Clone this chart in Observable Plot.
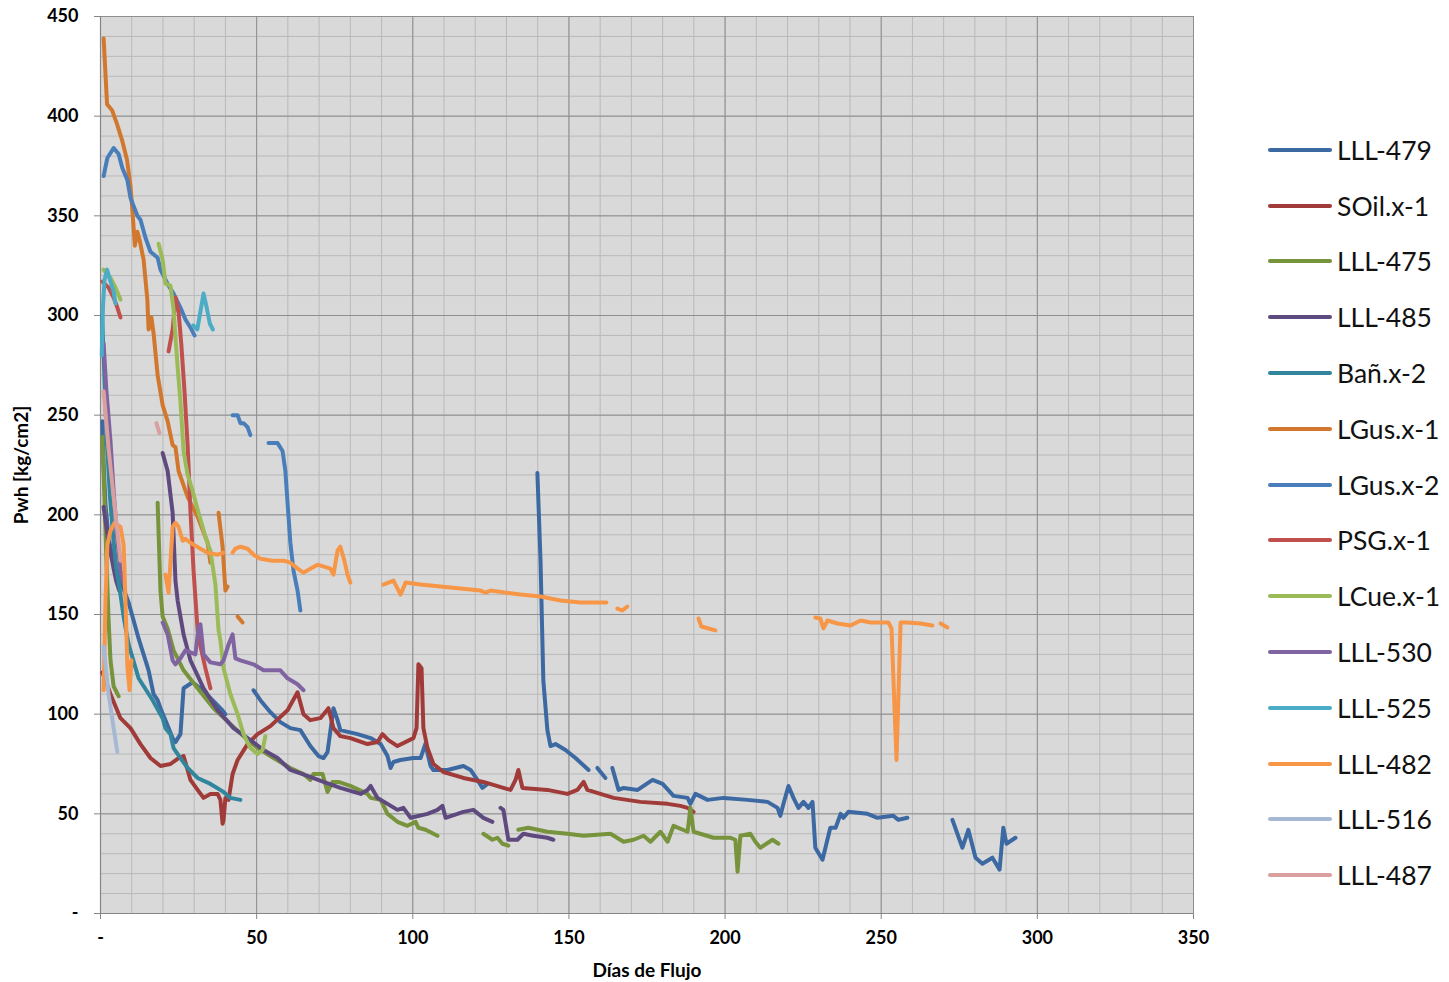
<!DOCTYPE html>
<html>
<head>
<meta charset="utf-8">
<script src="https://cdn.jsdelivr.net/npm/d3@7"></script>
<script src="https://cdn.jsdelivr.net/npm/@observablehq/plot@0.6"></script>
<style>
  html, body { margin: 0; padding: 0; background: #ffffff; }
  #wrap { position: relative; width: 1449px; height: 982px; font-family: Lato, "Liberation Sans", sans-serif; }
  #chart { position: absolute; left: 0; top: 0; }
  #legend { position: absolute; left: 1268px; top: 122px; }
  .item { display: flex; align-items: center; height: 55.8px; }
  .sw { width: 64px; height: 4px; border-radius: 2px; margin-right: 5px; }
  .lab { font-size: 26.5px; color: #111; font-family: Lato, "Liberation Sans", sans-serif; }
</style>
</head>
<body>
<div id="wrap"><div id="chart"></div><div id="legend"></div></div>
<script>
// Series names (legend order) and colours
const seriesNames = ["LLL-479","SOil.x-1","LLL-475","LLL-485","Bañ.x-2","LGus.x-1","LGus.x-2","PSG.x-1","LCue.x-1","LLL-530","LLL-525","LLL-482","LLL-516","LLL-487"];
const seriesColors = ["#3d69a3","#a13b39","#77933c","#5f4a7f","#31869d","#d2782e","#4a7ebb","#c0504d","#9bbb59","#8064a2","#4bacc6","#f79646","#a7b8d5","#d9a09f"];

// Axis ticks
const xTicks = [0,50,100,150,200,250,300,350];
const yTicks = [0,50,100,150,200,250,300,350,400,450];
const xMinor = d3.range(0, 351, 10);
const yMinor = d3.range(0, 451, 10);

// Data: [día, Pwh]; null = gap in the series
const LLL_479 = [[0.6,247],[1,225],[1.6,205],[2.6,188],[4.2,177],[6.4,167],[9,156],[12.2,138],[15.4,122],[17,110],[18.3,107],[19.2,103],[20.8,97],[23.1,88],[24,86],[25.6,90],[26.6,113],[29.5,116],[32.7,112],[39,102],[40,100],
 null,
 [49,112],[51.2,107],[54.4,101],[57.6,96],[60.8,93],[64,92],[67.2,84],[69.8,79],[71.4,78],[72.7,81],[74.6,103],[75.9,97],[76.8,92],[82.3,90],[86.5,88],[89.7,85],[91.9,79],[92.9,73],[93.8,76],[96,77],[100.2,78],[102.5,78],[104,85],[105.7,74],[106.6,72],[111.1,72],[116.2,74],[118.5,72],[120.7,67],[122.3,63],[123.9,65],
 null,
 [139.9,221],[140.9,177],[141.8,117],[143.1,92],[144.1,84],[145.7,85],[148.9,82],[152.1,78],[156.3,72],
 null,
 [159.1,73],[161.7,68],
 null,
 [163.9,73],[165.9,62],[167.5,63],[172,62],[176.8,67],[180,65],[183.5,59],[188,58],[188.9,55],[190.5,60],[194.4,57],[199.5,58],[207.2,57],[213.6,56],[216.8,53],[217.7,49],[218.7,55],[220.3,64],[221.9,58],[223.5,53],[225.1,56],[226.7,53],[228,56],[228.9,33],[231.2,27],[233.7,43],[235.4,43],[237,50],[237.9,48],[239.5,51],[245.6,50],[248.8,48],[253.9,49],[255.5,47],[258.4,48],
 null,
 [272.8,47],[276,33],[277.9,42],[280.2,28],[282.4,25],[285.6,28],[287.9,22],[289.1,43],[290.1,35],[293,38]];

const SOil_x1 = [[0.6,121],[1.6,117],[3.2,110],[6.4,98],[9.6,93],[12.8,85],[16,78],[19.2,74],[22.4,75],[25,78],[26.6,79],[27.9,72],[28.8,67],[31.1,62],[33,58],[35.2,60],[37.5,60],[38.4,57],[39.1,45],[39.4,47],[40,58],[41,57],[42.3,70],[43.9,77],[47.1,85],[50.3,90],[54.4,94],[59.9,102],[63.1,111],[65,100],[67.2,97],[70.4,98],[73,103],[74.6,93],[76.8,89],[80,88],[85.5,85],[88.7,86],[90.3,90],[92.2,87],[95.1,84],[100.2,88],[101.2,93],[101.8,125],[102.8,123],[103.4,93],[104.7,83],[106.6,75],[109.8,71],[116.2,68],[122.6,66],[129,63],[131.3,62],[132.9,67],[133.8,72],[135.1,63],[143.1,62],[149.5,60],[152.7,62],[154.7,66],[155.9,62],[160.1,60],[164.3,58],[172.9,56],[181.6,55],[185.7,54],[188,53],[189.9,51]];

const LLL_475 = [[0.6,239],[1.3,207],[1.9,177],[2.6,147],[3.2,127],[4.2,114],[5.8,109],
 null,
 [18.3,206],[19.2,162],[19.9,149],[21.5,143],[23.4,132],[26.6,122],[31.1,113],[36.2,103],[41.6,95],[47.1,87],[50.3,83],[55.4,78],[60.8,73],[65,70],[67.2,67],[68.2,70],[71.1,70],[72.7,61],[74.3,66],[76.2,66],[80,64],[85.5,60],[86.5,58],[89.7,57],[91.9,50],[95.1,46],[98.3,44],[100.9,46],[101.8,43],[104.1,42],[107.9,39],
 null,
 [122.6,40],[125.5,37],[127.1,38],[128.7,35],[130.6,34],
 null,
 [133.8,42],[137,43],[143.1,41],[149.5,40],[154.7,39],[163.3,40],[167.5,36],[170.7,37],[173.9,39],[176.1,36],[179.3,41],[181.6,36],[183.5,44],[188,41],[188.9,53],[189.9,41],[196.3,38],[201.7,38],[203.3,37],[204,21],[204.9,39],[208.1,40],[209.7,36],[211.3,33],[215.2,37],[217.1,35]];

const LLL_485 = [[1,204],[2.5,187],[4.2,173],[5,167],[6,162],
 null,
 [19.9,231],[21.5,222],[23.1,201],[24,167],[24.7,157],[26.6,140],[28.8,127],[33,113],[37.5,102],[42.6,93],[48,87],[52.2,82],[56.7,78],[60.8,72],[66.3,69],[71.4,66],[76.8,63],[83.3,60],[85.5,62],[86.5,64],[88.7,58],[91.9,55],[95.1,52],[97,53],[99.3,48],[104.7,50],[107.9,52],[109.5,54],[110.5,48],[116.2,51],[119.4,52],[122.6,48],[125.5,46],
 null,
 [128.1,53],[129,52],[130.6,37],[133.5,37],[135.4,40],[138.6,39],[143.1,38],[145,37]];

const Ban_x2 = [[0.5,300],[1,280],[1.5,258],[2,238],[3,210],[4,190],[5,174],[6.4,160],[7.5,148],[9,135],[12.2,118],[16.7,107],[19.9,98],[20.8,93],[22.4,90],[23.4,83],[25.6,78],[27.9,73],[31.1,68],[35.2,65],[39.4,61],[41.6,58],[44.8,57]];

const LGus_x1 = [[1,439],[2.1,406],[3.7,403],[5.3,396],[6.9,388],[8.5,378],[9.6,365],[10.2,353],[11,335],[11.8,342],[12.5,338],[13.8,328],[15,308],[15.4,293],[16.3,299],[17,291],[18.3,270],[19.9,255],[21.5,247],[23.1,235],[24,234],[25,222],[27.9,209],[31.1,199],[34.3,186],[35.2,176],
 null,
 [37.8,201],[39.1,184],[40,162],[40.7,164],
 null,
 [43.9,149],[45.5,146]];

const LGus_x2 = [[1,370],[2.2,379],[4.2,384],[5.8,381],[7,374],[8.6,368],[9.6,359],[11.8,350],[12.8,348],[14.4,339],[16,332],[18.3,329],[19.2,323],[21.8,315],[23.4,311],[25.6,304],[27.2,298],[28.8,294],[30.1,290],
 null,
 [42.3,250],[43.9,250],[44.8,246],[45.8,246],[47.1,244],[48,240],
 null,
 [53.8,236],[56.7,236],[58.3,232],[59.2,222],[59.9,206],[60.8,186],[61.8,172],[63.1,162],[64,152]];

const PSG_x1 = [[0.6,317],[2.6,314],[4.2,309],[5.4,304],[6.4,299],
 null,
 [21.8,282],[23.1,293],[24,309],[25,302],[25.9,285],[26.9,262],[27.9,235],[28.8,202],[29.8,172],[31.1,142],[32,134],[33.6,123],[35.2,113]];

const LCue_x1 = [[0.9,323],[3.2,319],[4.8,314],[6.4,308],
 null,
 [18.6,336],[19.9,328],[20.8,316],[22.4,315],[23.4,303],[24.7,274],[25.6,257],[26.6,232],[27.9,220],[29.5,212],[31.4,201],[33.6,189],[35.2,182],[36.8,165],[37.8,142],[38.4,137],[39.4,123],[41.6,110],[43.9,100],[45.8,90],[48,83],[50.3,80],[51.9,82],[52.8,89]];

const LLL_530 = [[1,286],[1.9,262],[3.2,237],[4.2,212],[5.4,187],[6.4,172],[7.5,165],
 null,
 [19.9,146],[21.5,140],[23.1,127],[24,125],[25.6,128],[27.2,132],[30.4,130],[31.4,144],[32,145],[33,130],[35.2,126],[38.4,125],[39.4,127],[41,135],[42.3,140],[43.2,128],[44.8,127],[49,125],[52.2,122],[57.6,122],[59.9,118],[63.1,115],[65,112]];

const LLL_525 = [[0.4,280],[0.8,305],[1.3,318],[2.1,323],[3,318],[4.2,312],[4.8,306],
 null,
 [29.7,295],[31,293],[33,311],[34,304],[35,296],[36,293]];

const LLL_482 = [[1,112],[1.6,157],[2.2,185],[3.2,192],[4.5,196],[6.4,194],[7.4,185],[8,157],[8.6,124],[9.3,112],[9.9,127],
 null,
 [20.8,170],[21.8,161],[23.1,194],[24,196],[25,194],[26.3,187],[27.2,188],[28.8,186],[32,183],[34.3,181],[37.5,180],[39.4,181],
 null,
 [42.3,181],[43.2,183],[44.8,184],[47.1,183],[49,180],[51.2,178],[55.1,177],[58.6,177],[60.8,176],[63.1,173],[65,171],[67.2,173],[69.5,175],[73.6,173],[74.6,170],[75.9,182],[76.8,184],[78.1,177],[79.1,170],[80,166],
 null,
 [90.6,165],[93.8,167],[96.1,160],[97.7,166],[102.5,165],[108.9,164],[115.3,163],[121.7,162],[123.3,161],[124.9,162],[134.5,160],[140.9,159],[147.3,157],[153.7,156],[162,156],
 null,
 [165.5,153],[167.1,152],[168.7,154],
 null,
 [191.5,148],[192.4,144],[194.7,143],[196.9,142],
 null,
 [228.9,148.5],[230.5,148],[231.5,143],[232.8,147],[236,145.5],[240.2,144.5],[243.4,147],[246.6,146],[252.3,146],[253.3,143],[254.9,77],[256.2,146],[258.4,146],[262.6,145.5],[266.4,144.5],
 null,
 [269,145.5],[271.2,143.5]];

const LLL_516 = [[1,134],[2.6,110],[4.2,93],[5.4,81]];

const LLL_487 = [[1,262],[2.6,233],[4.2,209],[5.4,192],[6.4,177],
 null,
 [17.9,246],[18.9,241]];

const seriesData = [LLL_479, SOil_x1, LLL_475, LLL_485, Ban_x2, LGus_x1, LGus_x2, PSG_x1, LCue_x1, LLL_530, LLL_525, LLL_482, LLL_516, LLL_487];

// Build long table
const rows = [];
seriesNames.forEach((name, i) => {
  let seg = 0;
  for (const p of seriesData[i]) {
    if (p === null) { seg++; continue; }
    rows.push({series: name, key: name + "#" + seg, dia: p[0], pwh: p[1]});
  }
});

const fmt = d => d === 0 ? "-" : String(d);
const font = "Lato, 'Liberation Sans', sans-serif";

const chart = Plot.plot({
  width: 1250,
  height: 982,
  marginLeft: 100,
  marginRight: 57,
  marginTop: 16,
  marginBottom: 69,
  style: {fontFamily: font, background: "transparent", color: "#000"},
  x: {domain: [0, 350]},
  y: {domain: [0, 450]},
  color: {domain: seriesNames, range: seriesColors},
  marks: [
    Plot.frame({fill: "#d9d9d9", stroke: "none"}),
    Plot.ruleX(xMinor, {stroke: "#b9b9b9", strokeWidth: 1}),
    Plot.ruleY(yMinor, {stroke: "#b9b9b9", strokeWidth: 1}),
    Plot.ruleX(xTicks, {stroke: "#8e8e8e", strokeWidth: 1}),
    Plot.ruleY(yTicks, {stroke: "#8e8e8e", strokeWidth: 1}),
    Plot.ruleX([0], {stroke: "#868686", strokeWidth: 1.2}),
    Plot.ruleY([0], {stroke: "#868686", strokeWidth: 1.2}),
    Plot.axisX({ticks: xTicks, tickFormat: fmt, tickSize: 6, tickPadding: 12, fontSize: 18, fontWeight: "bold", stroke: "#868686", label: null}),
    Plot.axisY({ticks: yTicks, tickFormat: fmt, tickSize: 6, tickPadding: 16, fontSize: 18, fontWeight: "bold", stroke: "#868686", label: null}),
    Plot.axisX({ticks: [], label: "Días de Flujo", labelAnchor: "center", labelOffset: 63, labelArrow: "none", fontSize: 19, fontWeight: "bold"}),
    Plot.axisY({ticks: [], label: "Pwh [kg/cm2]", labelAnchor: "center", labelOffset: 86, labelArrow: "none", fontSize: 19, fontWeight: "bold"}),
    Plot.line(rows, {x: "dia", y: "pwh", z: "key", stroke: "series", strokeWidth: 4, strokeLinejoin: "round", strokeLinecap: "round"})
  ]
});
document.getElementById("chart").appendChild(chart);

// Legend (HTML)
const legend = d3.select("#legend");
seriesNames.forEach((name, i) => {
  const it = legend.append("div").attr("class", "item");
  it.append("div").attr("class", "sw").style("background", seriesColors[i]);
  it.append("span").attr("class", "lab").text(name);
});
</script>
</body>
</html>
